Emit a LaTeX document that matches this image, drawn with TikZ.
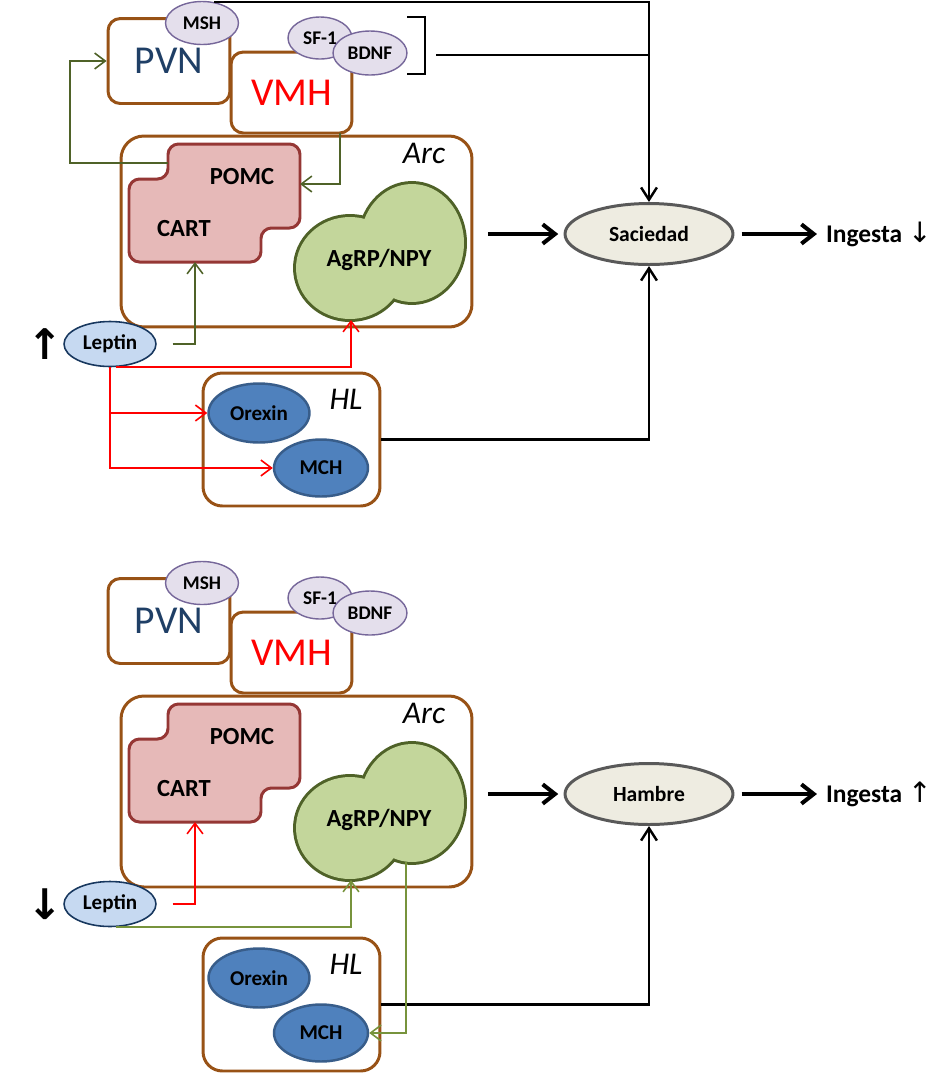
\documentclass[tikz,border=0pt]{standalone}
\usepackage{fontspec}
\setmainfont{Carlito}
\newfontfamily\arrowfont{DejaVu Sans}
\usetikzlibrary{arrows.meta,shapes.geometric}

\definecolor{boxbrown}{RGB}{152,82,22}
\definecolor{pvnblue}{HTML}{1F3F66}
\definecolor{pepfill}{HTML}{E4DFEC}
\definecolor{pepline}{HTML}{76679A}
\definecolor{pomcfill}{HTML}{E6B9B8}
\definecolor{pomcline}{HTML}{953735}
\definecolor{agrpfill}{HTML}{C3D69B}
\definecolor{agrpline}{HTML}{4F6228}
\definecolor{lepfill}{HTML}{C6D9F1}
\definecolor{lepline}{HTML}{17375E}
\definecolor{hlfill}{HTML}{4F81BD}
\definecolor{hlline}{HTML}{385D8A}
\definecolor{efffill}{HTML}{EEECE1}
\definecolor{effline}{HTML}{595959}
\definecolor{grnline}{HTML}{4F6228}
\definecolor{grnlight}{HTML}{77933C}
\definecolor{redline}{HTML}{FF0000}

\begin{document}
\begin{tikzpicture}[x=0.02cm,y=-0.02cm,
  region/.style={draw=boxbrown,line width=1.7pt,rounded corners=7pt,fill=white,inner sep=0pt},
  pep/.style={ellipse,draw=pepline,fill=pepfill,line width=0.8pt,inner sep=0pt,font=\bfseries\fontsize{11}{13}\selectfont},
  lbl/.style={font=\bfseries\fontsize{14}{16}\selectfont,inner sep=0pt},
  lep/.style={ellipse,draw=lepline,fill=lepfill,line width=0.9pt,inner sep=0pt,minimum width=1.84cm,minimum height=0.9cm,font=\bfseries\fontsize{12}{14}\selectfont},
  hlcell/.style={ellipse,draw=hlline,fill=hlfill,line width=1.4pt,inner sep=0pt,font=\bfseries\fontsize{12}{14}\selectfont},
  effect/.style={ellipse,draw=effline,fill=efffill,line width=1.7pt,inner sep=0pt,minimum width=3.36cm,minimum height=1.22cm,font=\bfseries\fontsize{12.3}{14}\selectfont},
  grnarr/.style={draw=grnline,line width=0.9pt,-{Straight Barb[length=6pt,width=9pt]}},
  grnarr2/.style={grnarr,draw=grnlight},
  redarr/.style={draw=redline,line width=0.9pt,-{Straight Barb[length=6pt,width=9pt]}},
  blkarr/.style={line width=1.4pt,-{Straight Barb[length=7pt,width=9pt]}},
  bigarr/.style={line width=2.3pt,-{Straight Barb[length=7pt,width=11pt]}}]
\useasboundingbox (0,0) rectangle (949,1073);

% both panels: same nuclei, shifted down
\foreach \p/\dy/\hy/\eff/\lepsym/\ingsym in {a/0/0/Saciedad/↑/↓, b/560/565/Hambre/↓/↑}{
  \node[region,minimum width=2.44cm,minimum height=1.7cm,text=pvnblue,font=\fontsize{22.5}{26}\selectfont] (pvn\p) at (169,61+\dy) {PVN};
  \node[pep,minimum width=1.46cm,minimum height=0.86cm] (msh\p) at (202,23+\dy) {MSH};
  \node[region,minimum width=2.42cm,minimum height=1.62cm,text=red,font=\fontsize{22.5}{26}\selectfont] (vmh\p) at (291.5,92.5+\dy) {VMH};
  \node[pep,minimum width=1.28cm,minimum height=0.84cm] (sf\p) at (320,38+\dy) {SF-1};
  \node[pep,minimum width=1.48cm,minimum height=0.88cm] (bdnf\p) at (370,53+\dy) {BDNF};
  \node[region,rounded corners=13pt,minimum width=7.02cm,minimum height=3.82cm] (arc\p) at (296.5,231.5+\dy) {};
  \node[font=\itshape\fontsize{18}{21}\selectfont,inner sep=0pt] (arct\p) at (424,153+\dy) {Arc};
  \draw[draw=pomcline,fill=pomcfill,line width=1.7pt,rounded corners=6pt]
    (168,144+\dy) -- (300,144+\dy) -- (300,228+\dy) -- (261,228+\dy) -- (261,262+\dy)
    -- (129,262+\dy) -- (129,179+\dy) -- (168,179+\dy) -- cycle;
  \node[lbl] (pomc\p) at (242,177+\dy) {POMC};
  \node[lbl] (cart\p) at (184,229+\dy) {CART};
  \coordinate (pomcw\p) at (168,163+\dy);
  \coordinate (pomce\p) at (300,184+\dy);
  \coordinate (carts\p) at (195,262+\dy);
  \coordinate (vmhs\p) at (340,133+\dy);
  \draw[draw=agrpline,line width=3.4pt] (412,243+\dy) ellipse [x radius=1.04cm,y radius=1.18cm]
    (350,268+\dy) ellipse [x radius=1.08cm,y radius=1.02cm];
  \fill[agrpfill] (412,243+\dy) ellipse [x radius=1.04cm,y radius=1.18cm]
    (350,268+\dy) ellipse [x radius=1.08cm,y radius=1.02cm];
  \node[lbl] (agrp\p) at (379,260+\dy) {AgRP/NPY};
  \coordinate (agrps\p) at (351,320+\dy);
  \coordinate (agrpse\p) at (406,302+\dy);
  \node[lep] (lep\p) at (110,344+\dy) {Leptin};
  \node[font=\arrowfont\bfseries\fontsize{24}{26}\selectfont,inner sep=0pt] (lsym\p) at (45,344+\dy) {\lepsym};
  \node[region,rounded corners=11pt,minimum width=3.54cm,minimum height=2.66cm] (hl\p) at (291.5,439.5+\hy) {};
  \node[font=\itshape\fontsize{18}{21}\selectfont,inner sep=0pt] (hlt\p) at (346,399+\hy) {HL};
  \node[hlcell,minimum width=2.02cm,minimum height=1.18cm] (orex\p) at (259,413+\hy) {Orexin};
  \node[hlcell,minimum width=1.88cm,minimum height=1.14cm] (mch\p) at (321,468+\hy) {MCH};
  \node[effect] (eff\p) at (649,234+\dy) {\eff};
  \node[anchor=west,font=\bfseries\fontsize{14.5}{17}\selectfont,inner sep=1pt] (ing\p) at (824,234+\dy)
    {Ingesta {\arrowfont\mdseries\fontsize{16}{17}\selectfont\ingsym}};
  \draw[bigarr] ([xshift=-43pt]eff\p.west) -- ([xshift=-3pt]eff\p.west);
  \draw[bigarr] ([xshift=4pt]eff\p.east) -- ([xshift=-4pt]ing\p.west);
  \draw[blkarr] (hl\p.east) -| (eff\p.south);
}

% upper panel: high leptin
\draw[line width=0.8pt] (407,17) -- (425,17) -- (425,74) -- (407,74);
\coordinate (brkt) at (436,55);
\draw[line width=1.4pt] (brkt) -- (brkt -| effa.north);
\draw[blkarr] (msha.60) -| (effa.north);
\draw[grnarr] (pomcwa) -- ++(-98,0) |- (pvna.west);
\draw[grnarr] (vmhsa) |- (pomcea);
\draw[grnarr] ([xshift=9pt]lepa.east) -| (cartsa);
\draw[redarr] (lepa.-75) -| (agrpsa);
\draw[redarr] (lepa.south) |- (orexa.west);
\draw[redarr] (lepa.south) |- (mcha.west);

% lower panel: low leptin
\draw[redarr] ([xshift=9pt]lepb.east) -| (cartsb);
\draw[grnarr2] (lepb.-75) -| (agrpsb);
\draw[grnarr2] (agrpseb) |- (mchb.east);
\end{tikzpicture}
\end{document}
